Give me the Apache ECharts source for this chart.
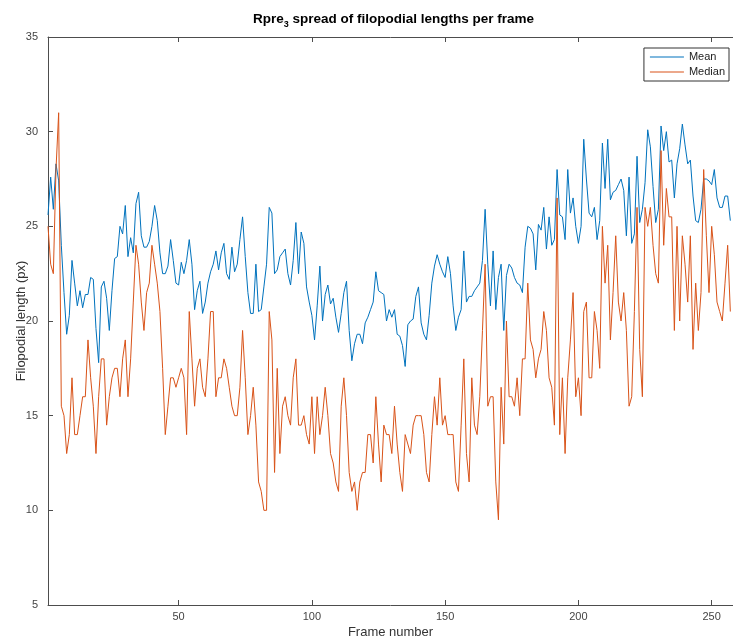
<!DOCTYPE html>
<html>
<head>
<meta charset="utf-8">
<script src="https://cdn.jsdelivr.net/npm/echarts@6/dist/echarts.min.js"></script>
<style>
  html, body { margin: 0; padding: 0; background: #fff; }
  #chart { width: 733px; height: 641px; }
</style>
</head>
<body>
<div id="chart"></div>
<script>
// frame index 1..257
const frames = Array.from({ length: 257 }, (_, i) => i + 1)

// mean filopodial length per frame (px)
const meanLength = [
  25.6, 27.6, 25.9, 28.3, 27.4, 24.0, 21.5, 19.3, 20.3, 23.2,
  22.0, 20.8, 21.6, 20.7, 21.4, 21.4, 22.3, 22.2, 19.6, 17.8,
  21.8, 22.1, 21.2, 19.5, 21.6, 23.3, 23.4, 25.0, 24.6, 26.1,
  23.4, 24.4, 23.6, 26.2, 26.8, 24.5, 23.9, 23.9, 24.2, 25.0,
  26.1, 25.3, 23.6, 22.5, 22.5, 22.9, 24.3, 23.2, 22.0, 21.9,
  23.1, 22.5, 23.2, 24.3, 23.0, 20.6, 21.6, 22.1, 20.4, 21.0,
  22.0, 22.6, 23.0, 23.7, 22.7, 23.6, 24.1, 22.5, 22.2, 23.9,
  22.6, 23.0, 24.3, 25.5, 23.4, 21.5, 20.4, 20.4, 23.0, 20.5,
  20.6, 21.8, 23.0, 26.0, 25.7, 22.5, 22.7, 23.4, 23.6, 23.8,
  22.5, 21.9, 23.2, 25.2, 22.5, 24.7, 24.1, 21.8, 21.0, 20.3,
  19.0, 20.8, 22.9, 20.0, 21.4, 21.9, 20.9, 21.2, 20.2, 19.4,
  20.4, 21.5, 22.1, 19.5, 17.9, 18.8, 19.3, 19.3, 18.8, 19.9,
  20.2, 20.6, 21.0, 22.6, 21.6, 21.5, 21.4, 20.0, 20.6, 20.2,
  20.6, 19.3, 19.2, 18.7, 17.6, 19.8, 20.0, 20.1, 21.3, 21.8,
  19.9, 19.3, 19.0, 20.3, 22.0, 22.9, 23.5, 23.0, 22.6, 22.3,
  23.4, 22.5, 20.8, 19.5, 20.2, 20.6, 23.7, 21.0, 21.3, 21.3,
  21.6, 21.8, 22.0, 23.2, 25.9, 23.0, 20.8, 23.7, 20.6, 22.3,
  23.0, 19.5, 22.4, 23.0, 22.8, 22.3, 22.0, 21.9, 21.5, 23.9,
  25.0, 24.9, 24.6, 22.7, 25.1, 24.8, 26.0, 23.8, 25.5, 24.0,
  24.3, 28.0, 25.6, 25.5, 24.3, 28.0, 25.7, 26.5, 25.0, 24.1,
  25.0, 29.6, 27.5, 25.7, 25.5, 26.0, 24.3, 25.3, 29.4, 27.0,
  29.6, 26.4, 26.8, 26.9, 27.2, 27.5, 26.9, 24.5, 27.6, 24.1,
  24.6, 28.7, 25.2, 25.9, 27.3, 30.1, 29.2, 27.1, 25.2, 25.9,
  30.3, 29.0, 30.0, 28.4, 28.5, 26.5, 28.3, 29.1, 30.4, 29.3,
  28.3, 28.5, 26.6, 25.3, 25.2, 25.9, 27.5, 27.5, 27.4, 27.2,
  28.0, 26.5, 26.0, 26.0, 26.6, 26.6, 25.3
]

// median filopodial length per frame (px)
const medianLength = [
  25, 23, 22.5, 28, 31, 15.5, 15, 13, 14, 17,
  14, 14, 15, 16, 16, 19, 17, 15.5, 13, 16,
  18, 18, 14.5, 16, 17, 17.5, 17.5, 16, 18, 19,
  16, 18, 21, 24, 23, 21, 19.5, 21.5, 22, 24,
  23, 22, 20.5, 17.5, 14, 15.5, 17, 17, 16.5, 17,
  17.5, 17, 14, 20.5, 18, 15.5, 17.5, 18, 16.5, 16,
  18, 20.5, 20.5, 16, 17, 17, 18, 17.5, 16.5, 15.5,
  15, 15, 16.5, 19.5, 17, 14, 15, 16.5, 14.5, 11.5,
  11, 10, 10, 20.5, 19, 12, 17.5, 13, 15.5, 16,
  15, 14.5, 17, 18, 14.5, 14.5, 15, 14, 13.5, 16,
  13, 16, 14, 15, 16.5, 15, 13, 12.5, 11.5, 11,
  15.5, 17, 15, 12, 11, 11.5, 10, 11.5, 12, 12,
  14, 14, 12.5, 16, 13.5, 11.5, 14.5, 14, 14, 13,
  15.5, 13.5, 12, 11, 14, 13.5, 13, 14.5, 15, 15,
  15, 14, 12, 11.5, 14, 16, 14.5, 17, 14.5, 15,
  14, 14, 14, 11.5, 11, 14.5, 18, 13, 11.5, 17,
  14.5, 14, 16, 19.5, 23, 15.5, 16, 16, 11.5, 9.5,
  16.5, 13.5, 20, 16, 16, 15.5, 17, 15, 18, 18,
  22, 19, 18.5, 17, 18, 18.5, 20.5, 19.5, 17, 16.5,
  14.5, 26.5, 14, 17, 13, 17, 19, 21.5, 16, 17,
  15, 20.5, 21, 17, 17, 20.5, 19.5, 17.5, 25, 22,
  24, 19, 21.5, 24.5, 21, 20, 21.5, 19.5, 15.5, 16,
  20.5, 26, 18.5, 16, 26, 25, 26, 24, 22.5, 22,
  29, 24, 27, 25.5, 25.5, 19.5, 25, 20, 24.5, 23,
  21, 24.5, 18.5, 22, 19.5, 21.5, 28, 24.5, 21.5, 25,
  23.5, 21, 20.5, 20, 22, 24, 20.5
]

const xTicks = [50, 100, 150, 200, 250]

const axisColor = '#4d4d4d'
const font = 'Liberation Sans, Arial, sans-serif'

const chart = echarts.init(document.getElementById('chart'))
chart.setOption({
  animation: false,
  backgroundColor: '#fff',
  title: {
    text: '{a|Rpre}{s|3}{a| spread of filopodial lengths per frame}',
    left: 253,
    top: 12,
    padding: 0,
    textStyle: {
      rich: {
        a: { fontSize: 13.5, fontWeight: 'bold', color: '#000', fontFamily: font, lineHeight: 16, verticalAlign: 'top' },
        s: { fontSize: 9, fontWeight: 'bold', color: '#000', fontFamily: font, lineHeight: 10, padding: [8, 0, 0, 0], verticalAlign: 'top' }
      }
    }
  },
  legend: {
    right: 4,
    top: 48,
    orient: 'vertical',
    icon: 'rect',
    itemWidth: 34,
    itemHeight: 1,
    itemGap: 3,
    padding: [3, 4, 3, 6],
    borderColor: '#333',
    borderWidth: 1,
    backgroundColor: '#fff',
    textStyle: { fontSize: 11, lineHeight: 12, color: '#222', fontFamily: font },
    data: ['Mean', 'Median']
  },
  grid: { left: 48, right: 0, top: 37, bottom: 36, outerBoundsMode: 'none' },
  xAxis: [{
    type: 'value',
    min: 1,
    max: 258,
    name: 'Frame number',
    nameLocation: 'middle',
    nameGap: 21,
    nameMoveOverlap: false,
    nameTextStyle: { fontSize: 13, color: '#333', fontFamily: font },
    axisLine: { lineStyle: { color: axisColor, width: 1 } },
    axisTick: { inside: true, length: 5, customValues: xTicks, lineStyle: { color: axisColor } },
    axisLabel: { customValues: xTicks, fontSize: 11, color: '#444', fontFamily: font, margin: 6 },
    splitLine: { show: false }
  }, {
    type: 'value',
    position: 'top',
    min: 1,
    max: 258,
    axisLine: { show: true, lineStyle: { color: axisColor, width: 1 } },
    axisTick: { inside: true, length: 5, customValues: xTicks, lineStyle: { color: axisColor } },
    axisLabel: { show: false },
    splitLine: { show: false }
  }],
  yAxis: {
    type: 'value',
    min: 5,
    max: 35,
    interval: 5,
    name: 'Filopodial length (px)',
    nameLocation: 'middle',
    nameGap: 20,
    nameMoveOverlap: false,
    nameTextStyle: { fontSize: 13, color: '#333', fontFamily: font },
    axisLine: { show: true, lineStyle: { color: axisColor, width: 1 } },
    axisTick: { show: true, inside: true, length: 5, lineStyle: { color: axisColor } },
    axisLabel: { fontSize: 11, color: '#444', fontFamily: font, margin: 10 },
    splitLine: { show: false }
  },
  series: [{
    name: 'Mean',
    type: 'line',
    data: frames.map((f, i) => [f, meanLength[i]]),
    showSymbol: false,
    lineStyle: { width: 1, color: '#0072BD' },
    itemStyle: { color: '#0072BD' }
  }, {
    name: 'Median',
    type: 'line',
    data: frames.map((f, i) => [f, medianLength[i]]),
    showSymbol: false,
    lineStyle: { width: 1, color: '#D95319' },
    itemStyle: { color: '#D95319' }
  }]
})
</script>
</body>
</html>
